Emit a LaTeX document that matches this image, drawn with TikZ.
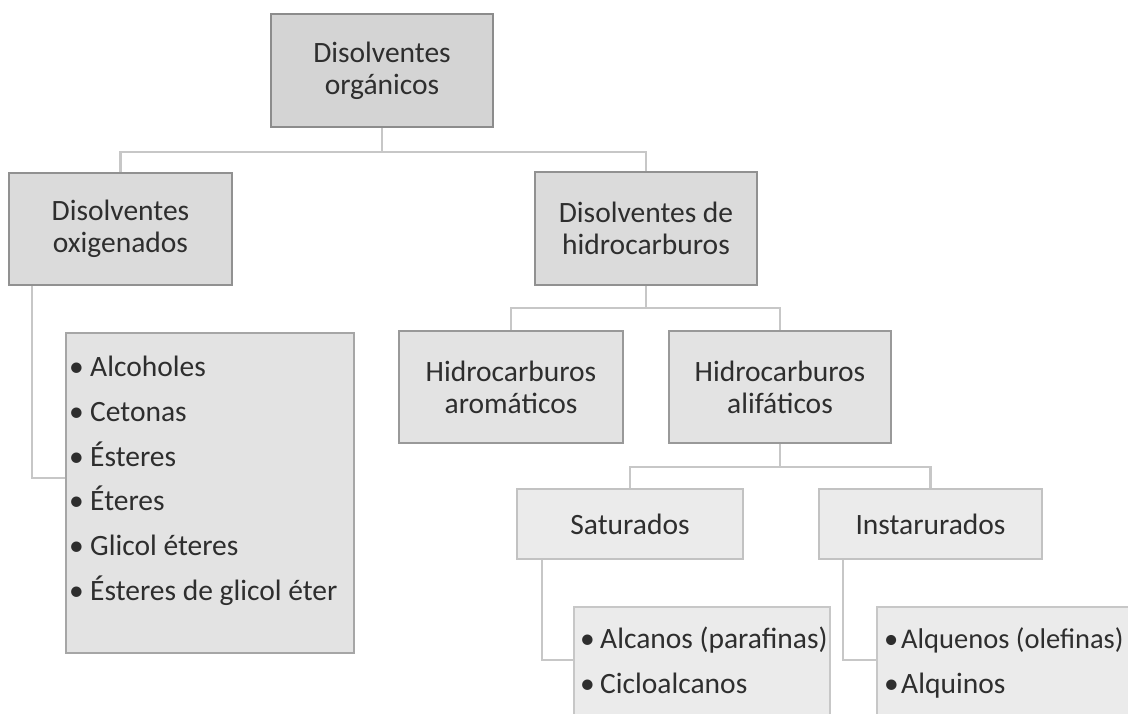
\documentclass[tikz,border=0pt]{standalone}
\usepackage{fontspec}
\setmainfont{Carlito}
\begin{document}
\begin{tikzpicture}[x=1pt,y=-1pt,
  box/.style={draw, line width=1.6pt, align=center, inner sep=2pt,
    font=\fontsize{29.5}{32}\selectfont, text=black!82},
  lvA/.style={box, fill=black!17, draw=black!45},
  lvB/.style={box, fill=black!14, draw=black!43},
  lvC/.style={box, fill=black!11, draw=black!40},
  lvD/.style={box, fill=black!8, draw=black!24},
  listA/.style={draw=black!35, line width=1.6pt, fill=black!11, inner sep=0pt},
  listB/.style={draw=black!22, line width=1.6pt, fill=black!8, inner sep=0pt},
  item/.style={anchor=base west, inner sep=0pt, font=\fontsize{29.5}{32}\selectfont, text=black!82},
  conn/.style={draw=black!22, line width=2.2pt}]
\clip (0,0) rectangle (1128,713);
\fill[white] (0,0) rectangle (1128,713);

\coordinate (j1) at (382,152);
\coordinate (j2) at (646,308);
\coordinate (j3) at (780,467);
\coordinate (a1) at (32,478);
\coordinate (s1) at (542,660);
\coordinate (t1) at (843,660);

% boxes
\node[lvA, minimum width=222, minimum height=113] (T) at (382,70.5) {Disolventes\\orgánicos};
\node[lvB, minimum width=223, minimum height=112] (A) at (120.5,229) {Disolventes\\oxigenados};
\node[lvB, minimum width=222, minimum height=113] (B) at (646,228.5) {Disolventes de\\hidrocarburos};
\node[lvC, minimum width=224, minimum height=112] (C) at (511,387) {Hidrocarburos\\aromáticos};
\node[lvC, minimum width=222, minimum height=112] (D) at (780,387) {Hidrocarburos\\alifáticos};
\node[lvD, minimum width=226, minimum height=70] (S) at (630,524) {Saturados};
\node[lvD, minimum width=223, minimum height=70] (I) at (930.5,524) {Instarurados};

\node[listA, minimum width=288, minimum height=320, anchor=north west] (L1) at (65,332) {};
\node[listB, minimum width=256, minimum height=130, anchor=north west] (L2) at (573,606) {};
\node[listB, minimum width=256, minimum height=130, anchor=north west] (L3) at (876,606) {};

% connector lines
\draw[conn] (T.south) -- (j1) -| (A.north);
\draw[conn] (j1) -| (B.north);
\draw[conn] (B.south) -- (j2) -| (C.north);
\draw[conn] (j2) -| (D.north);
\draw[conn] (D.south) -- (j3) -| (S.north);
\draw[conn] (j3) -| (I.north);
\draw[conn] (A.south -| a1) -- (a1) -- (a1 -| L1.west);
\draw[conn] (S.south -| s1) -- (s1) -- (s1 -| L2.west);
\draw[conn] (I.south -| t1) -- (t1) -- (t1 -| L3.west);

% list items
\node[item] (i1) at (69,376) {\makebox[21pt][l]{•}Alcoholes};
\node[item] (i2) at (69,421) {\makebox[21pt][l]{•}Cetonas};
\node[item] (i3) at (69,466) {\makebox[21pt][l]{•}Ésteres};
\node[item] (i4) at (69,510) {\makebox[21pt][l]{•}Éteres};
\node[item] (i5) at (69,555) {\makebox[21pt][l]{•}Glicol éteres};
\node[item] (i6) at (69,600) {\makebox[21pt][l]{•}Ésteres de glicol éter};

\node[item] (k1) at (580,648) {\makebox[20pt][l]{•}Alcanos (parafinas)};
\node[item] (k2) at (580,693) {\makebox[20pt][l]{•}Cicloalcanos};
\node[item, font=\fontsize{28.5}{32}\selectfont] (m1) at (884,648) {\makebox[17pt][l]{•}Alquenos (olefinas)};
\node[item] (m2) at (884,693) {\makebox[17pt][l]{•}Alquinos};
\end{tikzpicture}
\end{document}
